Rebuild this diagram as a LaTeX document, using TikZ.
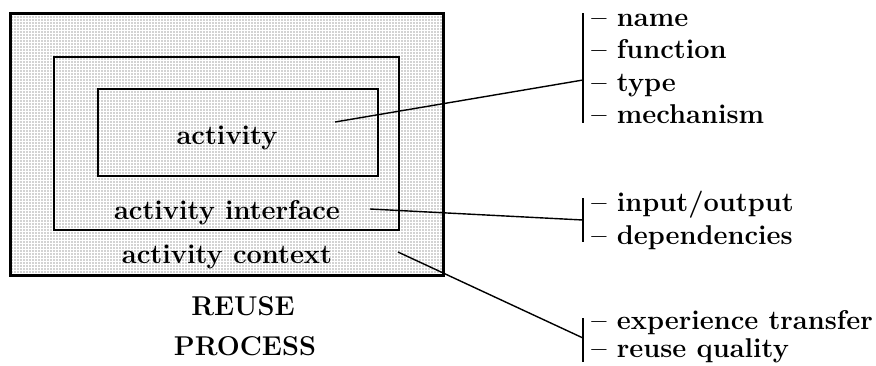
\documentclass[tikz,border=0pt]{standalone}
\usetikzlibrary{patterns.meta}
\begin{document}
\begin{tikzpicture}[x=0.5pt,y=-0.5pt,
  lbl/.style={font=\fontsize{13.6}{16}\selectfont\bfseries, inner sep=0pt},
  item/.style={lbl, anchor=base west},
  conn/.style={line width=0.7pt},
  brk/.style={line width=0.6pt},
  dotfill/.style={pattern={Dots[distance=1.5pt,radius=0.33pt]}, pattern color=black!75}]
\useasboundingbox (0,0) rectangle (876,365);
% boxes
\path[dotfill] (10,13) rectangle (443,275);
\draw[line width=1.5pt] (10,13) rectangle (443,275);
\draw[line width=1pt] (54,57) rectangle (399,230);
\draw[line width=1pt] (98,89) rectangle (378,176);
% labels
\node[lbl] (act) at (227,138) {activity};
\node[lbl] (intf) at (227,213) {activity interface};
\node[lbl] (ctx) at (227,257) {activity context};
\node[lbl] (reuse) at (243,306) {REUSE};
\node[lbl] (proc) at (245,346) {PROCESS};
% anchor points of connectors
\coordinate (p1) at (335,122);
\coordinate (p2) at (370,209);
\coordinate (p3) at (398,252);
\coordinate (j1) at (583,80);
\coordinate (j2) at (583,220);
\coordinate (j3) at (583,338);
\coordinate (b1t) at (583,13);
\coordinate (b1b) at (583,123);
\coordinate (b2t) at (583,198);
\coordinate (b2b) at (583,242);
\coordinate (b3t) at (583,318);
\coordinate (b3b) at (583,362);
% brackets
\draw[brk] (b1t) -- (b1b);
\draw[brk] (b2t) -- (b2b);
\draw[brk] (b3t) -- (b3b);
% connectors
\draw[conn] (p1) -- (j1);
\draw[conn] (p2) -- (j2);
\draw[conn] (p3) -- (j3);
% items
\node[item] (i1) at (591,26) {-- name};
\node[item] (i2) at (591,58) {-- function};
\node[item] (i3) at (591,91) {-- type};
\node[item] (i4) at (591,123) {-- mechanism};
\node[item] (i5) at (591,211) {-- input/output};
\node[item] (i6) at (591,244) {-- dependencies};
\node[item] (i7) at (591,329) {-- experience transfer};
\node[item] (i8) at (591,357) {-- reuse quality};
\end{tikzpicture}
\end{document}
